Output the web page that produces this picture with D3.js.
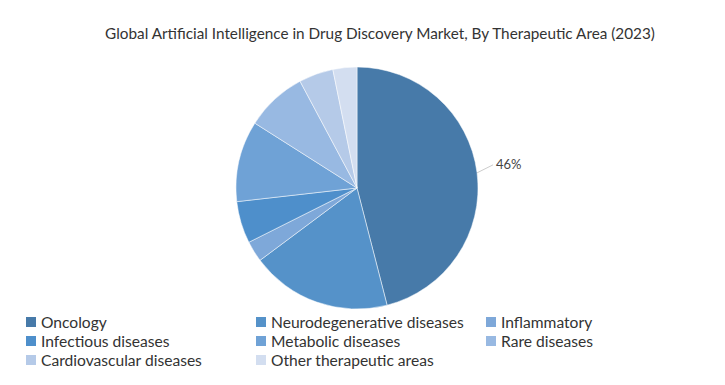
<!DOCTYPE html>
<html>
<head>
<meta charset="utf-8">
<script src="https://cdn.jsdelivr.net/npm/d3@7"></script>
<style>
    body { margin: 0; background: #fff; }
    text { font-family: Lato, "Noto Sans", sans-serif; fill: #333; }
</style>
</head>
<body>
<svg id="chart" width="725" height="385"></svg>
<script>
var categories = ["Oncology", "Neurodegenerative diseases", "Inflammatory",
    "Infectious diseases", "Metabolic diseases", "Rare diseases",
    "Cardiovascular diseases", "Other therapeutic areas"];
var shares = [46, 18.8, 2.8, 5.6, 10.8, 8.2, 4.6, 3.2];
var colors = ["#477aa9", "#5592c9", "#7ea8d9", "#4e8fcb",
    "#6fa2d6", "#98b9e2", "#b5cae8", "#d3def0"];
var shownLabels = ["46%"];

var svg = d3.select("#chart");
var cx = 357, cy = 188, r = 121;

svg.append("text")
    .attr("x", 380).attr("y", 39)
    .attr("text-anchor", "middle")
    .style("font-size", "15.3px")
    .text("Global Artificial Intelligence in Drug Discovery Market, By Therapeutic Area (2023)");

var pie = d3.pie().sort(null).value(function(d){ return d; });
var arc = d3.arc().innerRadius(0).outerRadius(r);
var arcs = pie(shares);

var g = svg.append("g").attr("transform", "translate(" + cx + "," + cy + ")");

g.selectAll("path")
    .data(arcs)
    .enter()
    .append("path")
    .attr("d", arc)
    .attr("fill", function(d, i){ return colors[i]; })
    .attr("stroke", "#fff")
    .attr("stroke-width", 0.5);

// leader line + label only for the first slice
var first = arcs[0];
var mid = (first.startAngle + first.endAngle) / 2;
var p0 = [Math.sin(mid) * r, -Math.cos(mid) * r];
var p1 = [p0[0] + 16, p0[1] - 8];
g.append("path")
    .attr("d", "M" + p0[0] + "," + p0[1] + "L" + p1[0] + "," + p1[1])
    .attr("stroke", "#ccc")
    .attr("fill", "none");
g.append("text")
    .attr("x", p1[0] + 3).attr("y", p1[1] + 4)
    .style("font-size", "13px")
    .style("fill", "#444")
    .text(shownLabels[0]);

// legend, three columns
var colX = [26, 256, 486];
var rowY = [322, 341, 360];
var legend = svg.append("g").selectAll("g")
    .data(categories)
    .enter()
    .append("g")
    .attr("transform", function(d, i){
        return "translate(" + colX[i % 3] + "," + rowY[Math.floor(i / 3)] + ")";
    });

legend.append("rect")
    .attr("x", 0).attr("y", -5)
    .attr("width", 10).attr("height", 10)
    .attr("fill", function(d, i){ return colors[i]; });

legend.append("text")
    .attr("x", 15).attr("y", 5.5)
    .style("font-size", "15.6px")
    .text(function(d){ return d; });
</script>
</body>
</html>
